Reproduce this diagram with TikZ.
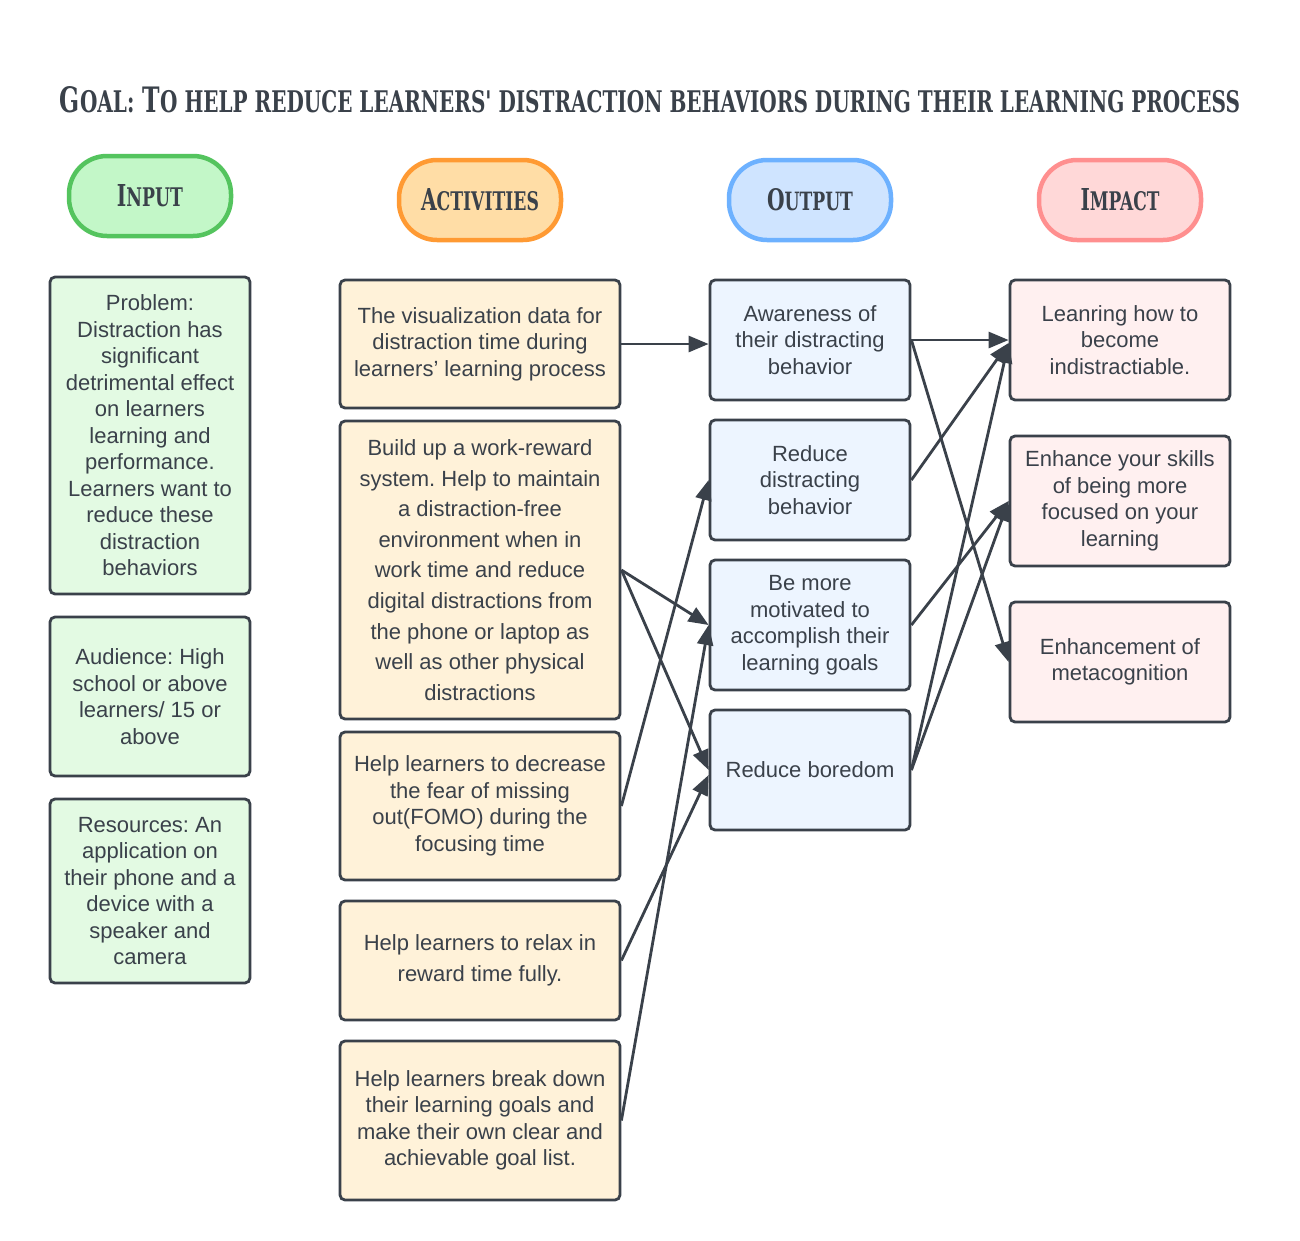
\documentclass[tikz,border=0pt]{standalone}
\usepackage{fontspec}
\setmainfont{Liberation Sans}
\newfontfamily\slabfont{DejaVu Serif}
\usetikzlibrary{arrows.meta}
\frenchspacing
\definecolor{ink}{HTML}{3A414A}
\definecolor{inpill}{HTML}{C3F7C8}
\definecolor{inline}{HTML}{54C45E}
\definecolor{inbox}{HTML}{E3FAE3}
\definecolor{acpill}{HTML}{FFDDA6}
\definecolor{acline}{HTML}{FF9A33}
\definecolor{acbox}{HTML}{FFF2D9}
\definecolor{oupill}{HTML}{CFE4FF}
\definecolor{ouline}{HTML}{6DB1FF}
\definecolor{oubox}{HTML}{EDF5FF}
\definecolor{impill}{HTML}{FFD8D8}
\definecolor{imline}{HTML}{FF8F8F}
\definecolor{imbox}{HTML}{FFF0F0}
\newcommand\fsc[2]{{\fontsize{20}{20}\selectfont #1}{\fontsize{17}{17}\selectfont #2}}
\tikzset{
  pill/.style={draw=#1, line width=4.5pt, rounded corners=38pt, minimum width=162pt, minimum height=80pt, inner sep=0pt, text=ink},
  card/.style={draw=ink, fill=#1, line width=2.8pt, rounded corners=5pt, inner sep=0pt, align=center, text=ink, font=\fontsize{22}{26.5}\selectfont},
  wide/.style={font=\fontsize{22}{30.6}\selectfont},
  link/.style={draw=ink, line width=2.8pt, -{Triangle[length=20pt,width=16pt]}}
}
\begin{document}
\frenchspacing
\begin{tikzpicture}[x=1pt,y=-1pt]
\useasboundingbox[fill=white] (0,0) rectangle (1300,1240);
% title
\node[anchor=base, inner sep=0pt, text=ink] (title) at (650,112)
  {\resizebox{1180pt}{26pt}{\slabfont\bfseries\fsc{G}{OAL:}\hspace{7pt}\fsc{T}{O HELP REDUCE LEARNERS' DISTRACTION BEHAVIORS DURING THEIR LEARNING PROCESS}}};
% headers
\node[pill=inline, fill=inpill] (hin) at (150,196) {\resizebox{66pt}{22pt}{\slabfont\bfseries\fsc{I}{NPUT}}};
\node[pill=acline, fill=acpill] (hac) at (480,200) {\resizebox{118pt}{22pt}{\slabfont\bfseries\fsc{A}{CTIVITIES}}};
\node[pill=ouline, fill=oupill] (hou) at (810,200) {\resizebox{86pt}{22pt}{\slabfont\bfseries\fsc{O}{UTPUT}}};
\node[pill=imline, fill=impill] (him) at (1120,200) {\resizebox{79pt}{22pt}{\slabfont\bfseries\fsc{I}{MPACT}}};
% input column
\node[card=inbox, minimum width=200pt, minimum height=317pt] (in1) at (150,435.5)
  {Problem:\\Distraction has\\significant\\detrimental effect\\on learners\\learning and\\performance.\\Learners want to\\reduce these\\distraction\\behaviors};
\node[card=inbox, minimum width=200pt, minimum height=159pt] (in2) at (150,696.5)
  {Audience: High\\school or above\\learners/ 15 or\\above};
\node[card=inbox, minimum width=200pt, minimum height=184pt] (in3) at (150,891)
  {Resources: An\\application on\\their phone and a\\device with a\\speaker and\\camera};
% activities column
\node[card=acbox, minimum width=280pt, minimum height=128pt] (a1) at (480,344)
  {The visualization data for\\distraction time during\\learners’ learning process};
\node[card=acbox, wide, minimum width=280pt, minimum height=298pt] (a2) at (480,570)
  {Build up a work-reward\\system. Help to maintain\\a distraction-free\\environment when in\\work time and reduce\\digital distractions from\\the phone or laptop as\\well as other physical\\distractions};
\node[card=acbox, minimum width=280pt, minimum height=148pt] (a3) at (480,806)
  {Help learners to decrease\\the fear of missing\\out(FOMO) during the\\focusing time};
\node[card=acbox, wide, minimum width=280pt, minimum height=119pt] (a4) at (480,960.5)
  {Help learners to relax in\\reward time fully.};
\node[card=acbox, minimum width=280pt, minimum height=159pt] (a5) at (480,1120.5)
  {Help learners break down\\their learning goals and\\make their own clear and\\achievable goal list.};
% output column
\node[card=oubox, minimum width=200pt, minimum height=120pt] (o1) at (810,340)
  {Awareness of\\their distracting\\behavior};
\node[card=oubox, minimum width=200pt, minimum height=120pt] (o2) at (810,480)
  {Reduce\\distracting\\behavior};
\node[card=oubox, minimum width=200pt, minimum height=130pt] (o3) at (810,625)
  {Be more\\motivated to\\accomplish their\\learning goals};
\node[card=oubox, minimum width=200pt, minimum height=120pt] (o4) at (810,770)
  {Reduce boredom};
% impact column
\node[card=imbox, minimum width=220pt, minimum height=120pt] (i1) at (1120,340)
  {Leanring how to\\become\\indistractiable.};
\node[card=imbox, minimum width=220pt, minimum height=130pt] (i2) at (1120,501)
  {Enhance your skills\\of being more\\focused on your\\learning};
\node[card=imbox, minimum width=220pt, minimum height=120pt] (i3) at (1120,662)
  {Enhancement of\\metacognition};
% connectors activities -> output
\draw[link] (a1.east) -- ([yshift=-4pt]o1.west);
\draw[link] (a2.east) -- (o3.west);
\draw[link] (a2.east) -- (o4.west);
\draw[link] (a3.east) -- (o2.west);
\draw[link] (a4.east) -- ([yshift=-5pt]o4.west);
\draw[link] (a5.east) -- (o3.west);
% connectors output -> impact
\draw[link] (o1.east) -- (i1.west);
\draw[link] (o1.east) -- (i3.west);
\draw[link] (o2.east) -- ([yshift=-3pt]i1.west);
\draw[link] (o3.east) -- (i2.west);
\draw[link] (o4.east) -- ([yshift=-3pt]i1.west);
\draw[link] (o4.east) -- (i2.west);
\end{tikzpicture}
\end{document}
